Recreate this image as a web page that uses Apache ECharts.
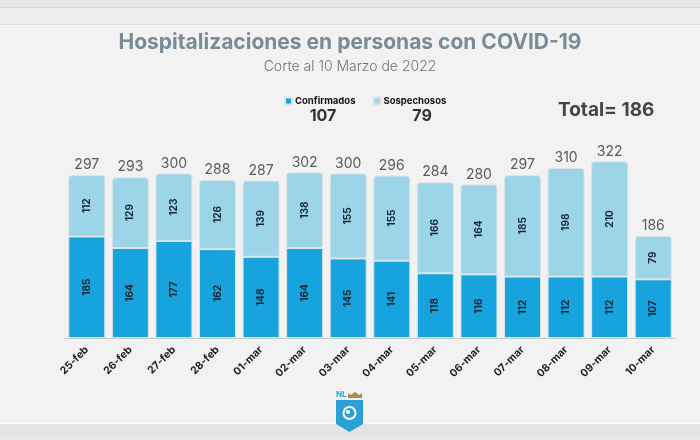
<!DOCTYPE html>
<html>
<head>
<meta charset="utf-8">
<script src="https://cdn.jsdelivr.net/npm/echarts@6/dist/echarts.min.js"></script>
<style>
  html, body { margin: 0; padding: 0; background: #f2f2f2; }
  #chart { width: 700px; height: 440px; }
</style>
</head>
<body>
<div id="chart"></div>
<script>
const dates = ['25-feb', '26-feb', '27-feb', '28-feb', '01-mar', '02-mar', '03-mar',
  '04-mar', '05-mar', '06-mar', '07-mar', '08-mar', '09-mar', '10-mar'];
const confirmados = [185, 164, 177, 162, 148, 164, 145, 141, 118, 116, 112, 112, 112, 107];
const sospechosos = [112, 129, 123, 126, 139, 138, 155, 155, 166, 164, 185, 198, 210, 79];
const totals = confirmados.map((c, i) => c + sospechosos[i]);

const DARK = '#17a4de';
const LIGHT = '#9dd5e8';
const FONT = 'Inter, "Noto Sans", sans-serif';

const chart = echarts.init(document.getElementById('chart'));

const insideLabel = {
  show: true,
  position: 'inside',
  rotate: 90,
  color: '#152433',
  fontSize: 10,
  fontWeight: 'bold',
  fontFamily: FONT
};

const option = {
  backgroundColor: '#f2f2f2',
  animation: false,
  title: {
    text: 'Hospitalizaciones en personas con COVID-19',
    subtext: 'Corte al 10 Marzo de 2022',
    left: 'center',
    top: 27,
    itemGap: 7,
    textStyle: { color: '#788b97', fontSize: 21, fontWeight: 'bold', fontFamily: FONT },
    subtextStyle: { color: '#727272', fontSize: 14, fontWeight: 300, fontFamily: FONT }
  },
  legend: {
    left: 279,
    top: 91,
    itemWidth: 7,
    itemHeight: 7,
    itemGap: 17,
    icon: 'rect',
    textStyle: { color: '#111', fontSize: 9.5, fontWeight: 'bold', fontFamily: FONT, padding: [0, 0, 0, -2] },
    data: ['Confirmados', 'Sospechosos']
  },
  grid: { left: 65, right: 25, top: 146, bottom: 102 },
  xAxis: {
    type: 'category',
    data: dates,
    axisLine: { lineStyle: { color: '#c8c8c8', width: 1 } },
    axisTick: { show: false },
    axisLabel: {
      rotate: 45,
      margin: 10,
      color: '#1c1c1c',
      fontSize: 10.5,
      fontWeight: 'bold',
      fontFamily: FONT
    }
  },
  yAxis: {
    type: 'value',
    min: 0,
    max: 350,
    show: false,
    splitLine: { show: false }
  },
  series: [
    {
      name: 'Confirmados',
      type: 'bar',
      stack: 'total',
      barWidth: '85%',
      data: confirmados,
      itemStyle: { color: DARK, borderColor: '#dde4e8', borderWidth: 1 },
      label: insideLabel
    },
    {
      name: 'Sospechosos',
      type: 'bar',
      stack: 'total',
      data: sospechosos,
      itemStyle: { color: LIGHT, borderColor: '#dde4e8', borderWidth: 1, borderRadius: [3, 3, 0, 0] },
      label: insideLabel
    },
    {
      // totals shown above each stacked bar
      name: 'Total',
      type: 'scatter',
      data: totals,
      symbolSize: 0,
      silent: true,
      label: {
        show: true,
        position: 'top',
        distance: 3,
        formatter: p => totals[p.dataIndex],
        color: '#333',
        fontSize: 14,
        fontFamily: FONT
      }
    }
  ],
  graphic: [
    { type: 'rect', silent: true, z: -1, shape: { x: 0, y: 0, width: 700, height: 7 }, style: { fill: '#e5e5e9' } },
    { type: 'rect', silent: true, z: -1, shape: { x: 0, y: 7, width: 700, height: 1 }, style: { fill: '#d3d3d8' } },
    { type: 'rect', silent: true, z: -1, shape: { x: 0, y: 8, width: 700, height: 16 }, style: { fill: '#eeeeee' } },
    { type: 'rect', silent: true, z: -1, shape: { x: 0, y: 24, width: 700, height: 1 }, style: { fill: '#dedede' } },
    { type: 'rect', silent: true, z: -1, shape: { x: 0, y: 424, width: 700, height: 16 },
      style: { fill: new echarts.graphic.LinearGradient(0, 0, 0, 1, [
        { offset: 0, color: '#e2e2e2' }, { offset: 1, color: '#e9e9e9' }]) } },
    { type: 'rect', silent: true, z: -1, shape: { x: 0, y: 423, width: 700, height: 1 }, style: { fill: '#fafafa' } },
    { type: 'text', left: 558, top: 101,
      style: { text: 'Total= 186', fill: '#444', font: 'bold 19px ' + FONT } },
    { type: 'text', x: 323, y: 108,
      style: { text: String(confirmados[confirmados.length - 1]), fill: '#333', font: 'bold 16px ' + FONT, textAlign: 'center' } },
    { type: 'text', x: 422, y: 108,
      style: { text: String(sospechosos[sospechosos.length - 1]), fill: '#333', font: 'bold 16px ' + FONT, textAlign: 'center' } },
    // NL logo
    { type: 'text', x: 336, y: 391, style: { text: 'NL', fill: '#2a9fd8', font: 'bold 8px ' + FONT } },
    { type: 'polygon', shape: { points: [[348, 398], [348, 393], [351, 395], [355, 392], [359, 395], [362, 393], [362, 398]] },
      style: { fill: '#b08a4a' } },
    { type: 'polygon', shape: { points: [[336, 400], [363, 400], [363, 424], [349.5, 432], [336, 424]] },
      style: { fill: '#2a9fd8' } },
    { type: 'circle', shape: { cx: 349.5, cy: 413, r: 6 }, style: { fill: 'none', stroke: '#fff', lineWidth: 2 } },
    { type: 'circle', shape: { cx: 348, cy: 412, r: 2 }, style: { fill: '#fff' } }
  ]
};

chart.setOption(option);
</script>
</body>
</html>
